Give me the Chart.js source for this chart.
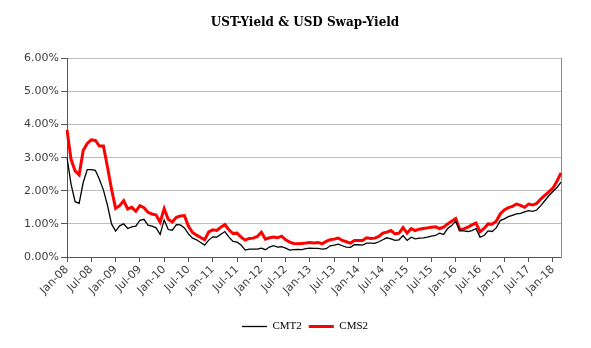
<!DOCTYPE html>
<html>
<head>
<meta charset="utf-8">
<script src="https://cdn.jsdelivr.net/npm/chart.js@4/dist/chart.umd.min.js"></script>
<style>
  html, body { margin: 0; padding: 0; background: #ffffff; }
  #wrap { width: 591px; height: 348px; }
</style>
</head>
<body>
<div id="wrap"><canvas id="c" width="591" height="348"></canvas></div>
<script>
const titleText = 'UST-Yield & USD Swap-Yield';
const monthNames = ['Jan','Feb','Mar','Apr','May','Jun','Jul','Aug','Sep','Oct','Nov','Dec'];
const years = ['08','09','10','11','12','13','14','15','16','17','18'];
const lastYearMonths = 3; // Jan-18 .. Mar-18

const yTicks = [0, 1, 2, 3, 4, 5, 6];

// CMT2 (2y Treasury yield, %), monthly Jan-08 .. Mar-18
const cmt2 = [
  3.00, 2.20, 1.67, 1.62, 2.25, 2.64, 2.64, 2.62, 2.35, 2.02, 1.56, 1.00,
  0.78, 0.94, 1.00, 0.86, 0.91, 0.93, 1.11, 1.14, 0.96, 0.93, 0.88, 0.68,
  1.12, 0.83, 0.81, 0.98, 0.97, 0.88, 0.70, 0.57, 0.52, 0.44, 0.36, 0.51,
  0.61, 0.60, 0.69, 0.77, 0.60, 0.47, 0.45, 0.36, 0.21, 0.24, 0.24, 0.24,
  0.27, 0.22, 0.30, 0.34, 0.30, 0.31, 0.27, 0.21, 0.22, 0.23, 0.22, 0.25,
  0.27, 0.26, 0.26, 0.24, 0.25, 0.34, 0.36, 0.39, 0.34, 0.30, 0.29, 0.37,
  0.37, 0.36, 0.42, 0.42, 0.41, 0.46, 0.52, 0.58, 0.55, 0.50, 0.52, 0.65,
  0.50, 0.60, 0.55, 0.57, 0.58, 0.60, 0.63, 0.65, 0.72, 0.68, 0.86, 0.95,
  1.09, 0.79, 0.79, 0.77, 0.80, 0.86, 0.60, 0.65, 0.79, 0.77, 0.88, 1.10,
  1.15, 1.22, 1.26, 1.30, 1.32, 1.36, 1.40, 1.38, 1.42, 1.55, 1.70, 1.85,
  1.98, 2.10, 2.26
];

// CMS2 (2y USD swap yield, %), monthly Jan-08 .. Mar-18
const cms2 = [
  3.84, 2.95, 2.60, 2.48, 3.22, 3.43, 3.54, 3.52, 3.35, 3.35, 2.72, 2.05,
  1.47, 1.55, 1.70, 1.45, 1.50, 1.38, 1.55, 1.49, 1.35, 1.30, 1.27, 1.05,
  1.46, 1.14, 1.06, 1.20, 1.24, 1.25, 0.93, 0.74, 0.66, 0.59, 0.52, 0.76,
  0.82, 0.80, 0.90, 0.98, 0.82, 0.71, 0.72, 0.60, 0.51, 0.56, 0.57, 0.62,
  0.75, 0.54, 0.58, 0.60, 0.58, 0.63, 0.52, 0.45, 0.41, 0.40, 0.41, 0.42,
  0.44, 0.42, 0.44, 0.40, 0.47, 0.52, 0.54, 0.57, 0.50, 0.46, 0.42, 0.50,
  0.50, 0.50, 0.58, 0.56, 0.57, 0.62, 0.72, 0.75, 0.80, 0.70, 0.72, 0.89,
  0.72, 0.86, 0.80, 0.84, 0.86, 0.88, 0.90, 0.91, 0.86, 0.90, 1.00, 1.08,
  1.16, 0.83, 0.85, 0.90, 0.97, 1.03, 0.76, 0.86, 1.00, 0.99, 1.08, 1.30,
  1.42, 1.49, 1.53, 1.60, 1.56, 1.50, 1.60, 1.57, 1.62, 1.75, 1.86, 1.97,
  2.08, 2.29, 2.54
];

// categories: month labels
const categories = [];
years.forEach((yy, i) => {
  const n = (i === years.length - 1) ? lastYearMonths : 12;
  for (let m = 0; m < n; m++) categories.push(monthNames[m] + '-' + yy);
});

new Chart(document.getElementById('c'), {
  type: 'line',
  data: {
    labels: categories,
    datasets: [
      { label: 'CMT2', data: cmt2, borderColor: '#000000', backgroundColor: '#000000',
        borderWidth: 1.3, pointRadius: 0, tension: 0, fill: false },
      { label: 'CMS2', data: cms2, borderColor: '#ff0000', backgroundColor: '#ff0000',
        borderWidth: 3, pointRadius: 0, tension: 0, fill: false }
    ]
  },
  options: {
    responsive: false,
    animation: false,
    devicePixelRatio: 1,
    layout: { padding: { left: 0, right: -19, top: 0, bottom: 6 } },
    plugins: {
      title: {
        display: true, text: titleText, color: '#000000',
        font: { family: 'DejaVu Serif', weight: 'bold', size: 12 },
        padding: { top: 16, bottom: 28 }
      },
      legend: {
        position: 'bottom',
        labels: {
          usePointStyle: true, pointStyle: 'line', pointStyleWidth: 25,
          color: '#000000', padding: 7,
          font: { family: 'Liberation Serif', size: 11 }
        }
      },
      tooltip: { enabled: false }
    },
    scales: {
      x: {
        type: 'category',
        offset: false,
        afterFit: (s) => { s.height = 57; },
        grid: {
          drawOnChartArea: false, drawTicks: true, tickLength: 5,
          tickColor: (ctx) => (ctx.index % 6 === 0 ? '#555555' : 'rgba(0,0,0,0)')
        },
        border: { display: true, color: '#555555', width: 1 },
        ticks: {
          autoSkip: false, minRotation: 45, maxRotation: 45, padding: 1,
          color: '#404040', font: { family: 'DejaVu Sans', size: 11 },
          callback: function (v, i) { return i % 6 === 0 ? categories[i] : ''; }
        }
      },
      y: {
        min: 0, max: 6,
        afterFit: (s) => { s.width = 67; },
        afterBuildTicks: (s) => { s.ticks = yTicks.map(v => ({ value: v })); },
        grid: { color: '#bdbdbd', lineWidth: 1, drawTicks: true, tickLength: 6, tickColor: '#555555' },
        border: { display: true, color: '#555555', width: 1 },
        ticks: {
          padding: 2, color: '#404040', font: { family: 'DejaVu Sans', size: 11 },
          callback: (v) => Number(v).toFixed(2) + '%'
        }
      },
      yRight: {
        type: 'linear', position: 'right', min: 0, max: 6,
        afterFit: (s) => { s.width = 49; },
        grid: { drawOnChartArea: false, drawTicks: false },
        border: { display: true, color: '#8c8c8c', width: 1 },
        ticks: { display: false }
      }
    }
  }
});
</script>
</body>
</html>
